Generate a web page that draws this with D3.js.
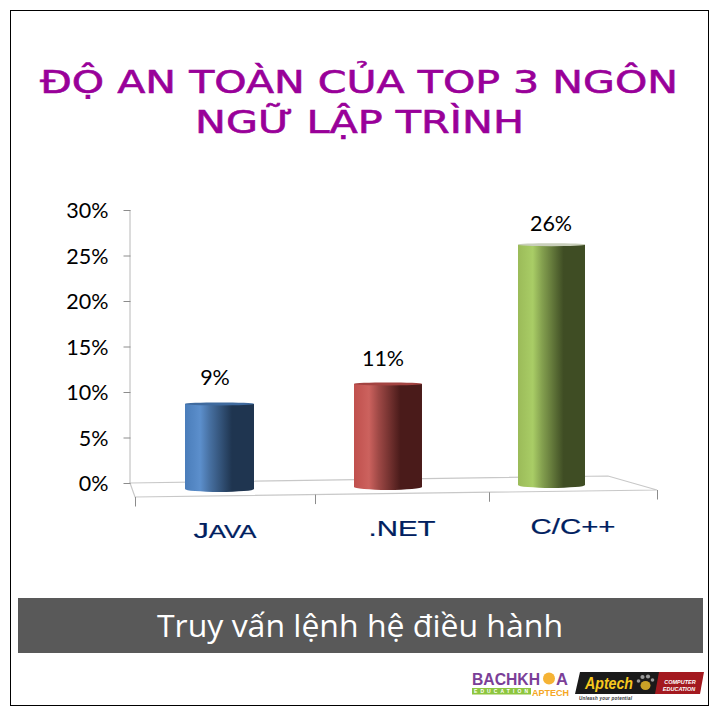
<!DOCTYPE html>
<html><head><meta charset="utf-8">
<script src="https://cdn.jsdelivr.net/npm/d3@7/dist/d3.min.js"></script>
<style>html,body{margin:0;padding:0;background:#fff}svg{display:block}</style>
</head><body><div id="c"></div>
<script>
const categories = ["Java", ".NET", "C/C++"];
const values = [0.088, 0.11, 0.263];
const yTicks = [0, 0.05, 0.1, 0.15, 0.2, 0.25, 0.3];
const titleLines = ["ĐỘ AN TOÀN CỦA TOP 3 NGÔN", "NGỮ LẬP TRÌNH"];
const banner = "Truy vấn lệnh hệ điều hành";

const svg = d3.select("#c").append("svg").attr("width",720).attr("height",720);
const defs = svg.append("defs");

svg.append("rect").attr("x",10.5).attr("y",10.5).attr("width",698).attr("height",695)
  .attr("fill","#fff").attr("stroke","#000").attr("stroke-width",1);

// title
svg.append("g").selectAll("text").data(titleLines).join("text")
  .attr("x",(d,i)=>i?195:40).attr("y",(d,i)=>i?133:93)
  .attr("textLength",(d,i)=>i?329:638).attr("lengthAdjust","spacingAndGlyphs")
  .attr("font-family","'DejaVu Sans'").attr("font-size",31.5).attr("fill","#990099")
  .attr("stroke","#990099").attr("stroke-width",0.6)
  .text(d=>d);

// scales
const y = d3.scaleLinear().domain([0,0.3]).range([483,210]);
const xTick = d3.scaleLinear().domain([0,1,2,3]).range([135,315,489,657]);
const xBar = d3.scaleOrdinal().domain(categories).range([219.5,388,551.5]);
const xVal = d3.scalePoint().domain(categories).range([215,551]);
const floorFront = d3.scaleLinear().domain([135,657]).range([497,490]);
const floorBase = d3.scaleLinear().domain([219.5,551.5]).range([491,487]);
const barWidth = d3.scaleLinear().domain([219.5,551.5]).range([69,67]);
const labelGap = d3.scaleLinear().domain([0.088,0.263]).range([17.5,13]);

// floor
const grid = svg.append("g").attr("fill","none").attr("stroke","#c8c8c8");
grid.append("path").attr("d",`M130,483L608,476L657,490L135,497Z`).attr("stroke-width",1.2);
grid.append("path").attr("d",`M130,210V483`).attr("stroke","#b8b8b8");

// y axis
const yAxis = d3.axisLeft(y).tickValues(yTicks).tickFormat(d3.format(".0%")).tickSize(7).tickPadding(15);
const gy = svg.append("g").attr("transform","translate(130.5,0)").call(yAxis);
gy.select(".domain").remove();
gy.selectAll("line").attr("stroke","#8c8c8c");
gy.selectAll("text").attr("font-family","Lato").attr("font-size",21.5).attr("fill","#000").attr("dy","0.37em");

// category ticks
svg.append("g").selectAll("line").data(d3.range(4)).join("line")
  .attr("x1",d=>xTick(d)+.5).attr("x2",d=>xTick(d)+.5)
  .attr("y1",d=>floorFront(xTick(d))).attr("y2",d=>floorFront(xTick(d))+9.5)
  .attr("stroke","#8c8c8c");

// bars
const grads = [["#4a7dba","#5c8fcc","#1f3550"],["#c0504d","#cc625e","#4a1b1a"],["#9bbb59","#a9cd66","#3f4d24"]];
const topCols = ["#3f6a9e","#a34341","#c9cfbb"];
grads.forEach((g,i)=>{
  const lg = defs.append("linearGradient").attr("id","g"+i);
  [[0,g[0]],[.22,g[1]],[.36,d3.interpolateRgb(g[1],g[2])(.35)],[.68,g[2]],[1,g[2]]].forEach(s=>
    lg.append("stop").attr("offset",s[0]).attr("stop-color",s[1]));
});
const bars = svg.append("g").selectAll("g").data(categories).join("g");
bars.append("path").attr("fill",(d,i)=>`url(#g${i})`).attr("d",(d,i)=>{
  const c=xBar(d), w=barWidth(c), l=c-w/2, r=c+w/2, t=y(values[i])+1, b=floorBase(c);
  return `M${l},${t}V${b-2}A${w/2},3 0 0 0 ${r},${b-2}V${t}Z`;
});
bars.append("ellipse").attr("fill",(d,i)=>topCols[i])
  .attr("cx",d=>xBar(d)).attr("cy",(d,i)=>y(values[i])+1)
  .attr("rx",d=>barWidth(xBar(d))/2).attr("ry",1.5);

// value labels
svg.append("g").selectAll("text").data(categories).join("text")
  .attr("x",d=>xVal(d)).attr("y",(d,i)=>y(values[i])-labelGap(values[i]))
  .attr("text-anchor","middle").attr("font-family","Lato").attr("font-size",21.5).attr("fill","#000")
  .text((d,i)=>d3.format(".0%")(values[i]));

// category labels
const catBase = d3.scaleLinear().domain([0,2]).range([538,534]);
const catW = [63,67,85];
const cats = svg.append("g").selectAll("text").data(categories).join("text")
  .attr("x",(d,i)=>(xTick(i)+xTick(i+1))/2).attr("y",(d,i)=>catBase(i))
  .attr("text-anchor","middle").attr("font-family","'Liberation Sans'").attr("font-size",21.5)
  .attr("fill","#002060").attr("stroke","#002060").attr("stroke-width",0.2)
  .attr("textLength",(d,i)=>catW[i]).attr("lengthAdjust","spacingAndGlyphs");
cats.each(function(d){
  const t=d3.select(this), first=d.slice(0,1), rest=d.slice(1);
  t.append("tspan").text(first);
  t.append("tspan").attr("font-size",rest===rest.toLowerCase()&&/[a-z]/.test(rest)?26:21.5)
    .attr("font-variant","small-caps").text(rest);
});

// banner
svg.append("rect").attr("x",18).attr("y",598).attr("width",685).attr("height",55).attr("fill","#595959");
svg.append("text").attr("x",360).attr("y",637).attr("text-anchor","middle")
  .attr("font-family","'Open Sans'").attr("font-size",31).attr("fill","#fff")
  .attr("textLength",406).attr("lengthAdjust","spacingAndGlyphs").text(banner);

// logos
const logo = svg.append("g");
const f="'Liberation Sans'";
logo.append("text").attr("x",472).attr("y",684.5).attr("font-family",f).attr("font-weight","bold")
  .attr("font-size",16.5).attr("fill","#7b3f98").attr("textLength",68).attr("lengthAdjust","spacingAndGlyphs").text("BACHKH");
logo.append("text").attr("x",556).attr("y",684.5).attr("font-family",f).attr("font-weight","bold")
  .attr("font-size",16.5).attr("fill","#7b3f98").text("A");
logo.append("circle").attr("cx",549).attr("cy",678.5).attr("r",6).attr("fill","#f5b335");
logo.append("rect").attr("x",472).attr("y",688).attr("width",59).attr("height",6.5).attr("fill","#8dc63f");
logo.append("text").attr("x",474).attr("y",693.2).attr("font-family",f).attr("font-weight","bold")
  .attr("font-size",5).attr("fill","#fff").attr("textLength",54).text("EDUCATION");
logo.append("text").attr("x",532).attr("y",695.5).attr("font-family",f).attr("font-weight","bold")
  .attr("font-size",8.5).attr("fill","#f5a623").attr("textLength",37).attr("lengthAdjust","spacingAndGlyphs").text("APTECH");
logo.append("path").attr("d","M580,672H660L657,694H575Z").attr("fill","#1a1a1a");
logo.append("path").attr("d","M659,672H704L700,694H655Z").attr("fill","#a3191f");
logo.append("text").attr("x",585).attr("y",689).attr("font-family",f).attr("font-weight","bold").attr("font-style","italic")
  .attr("font-size",16).attr("fill","#f7c81e").attr("textLength",48).attr("lengthAdjust","spacingAndGlyphs").text("Aptech");
const paw = logo.append("g").attr("fill","#9a9a9a");
[[638.5,681,1.8],[642.5,677,2.1],[648,676.5,2.1],[652.5,680,1.8]].forEach(p=>paw.append("circle").attr("cx",p[0]).attr("cy",p[1]).attr("r",p[2]));
paw.append("ellipse").attr("cx",645.5).attr("cy",685.5).attr("rx",5).attr("ry",4.5).attr("fill","#c9a227");
logo.append("text").attr("x",680).attr("y",684).attr("text-anchor","middle").attr("font-family",f).attr("font-weight","bold").attr("font-style","italic")
  .attr("font-size",5.5).attr("fill","#fff").text("COMPUTER");
logo.append("text").attr("x",679).attr("y",691).attr("text-anchor","middle").attr("font-family",f).attr("font-weight","bold").attr("font-style","italic")
  .attr("font-size",5.5).attr("fill","#fff").text("EDUCATION");
logo.append("text").attr("x",579).attr("y",700).attr("font-family",f).attr("font-style","italic").attr("font-weight","bold")
  .attr("font-size",4.5).attr("fill","#333").attr("textLength",53).text("Unleash your potential");
</script></body></html>
